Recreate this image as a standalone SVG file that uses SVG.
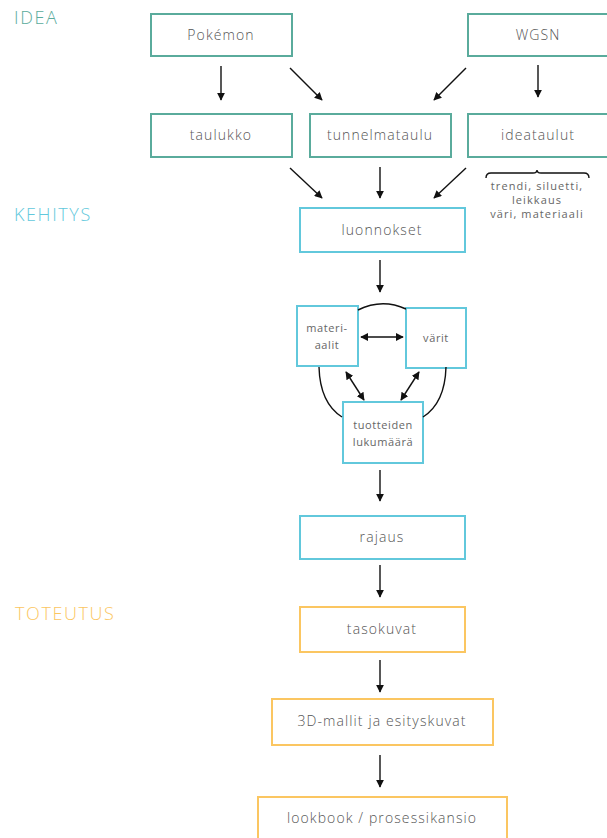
<svg xmlns="http://www.w3.org/2000/svg" width="607" height="838" viewBox="0 0 607 838">
<style>
.box{fill:#fff;stroke-width:2}
.t{stroke:#5aab9c}
.c{stroke:#62c8dc}
.o{stroke:#fbc661}
.lbl{font-family:"Open Sans","Liberation Sans",sans-serif;font-weight:300;font-size:14px;fill:#555;text-anchor:middle;letter-spacing:1.1px}
.sm{font-family:"Open Sans","Liberation Sans",sans-serif;font-weight:400;font-size:11px;fill:#666;text-anchor:middle;letter-spacing:0.6px}
.nt{letter-spacing:1.1px}
.hd{font-family:"Open Sans","Liberation Sans",sans-serif;font-weight:300;font-size:18px;letter-spacing:1.6px}
.ln{stroke:#111;stroke-width:1.4;fill:none}
</style>
<defs>
<marker id="ah" viewBox="0 0 10 10" refX="9" refY="5" markerWidth="8" markerHeight="8" markerUnits="userSpaceOnUse" orient="auto-start-reverse">
<path d="M0,0 L10,5 L0,10 z" fill="#111"/>
</marker>
</defs>
<text class="hd" x="14" y="24" fill="#5aab9c">IDEA</text>
<text class="hd" x="14" y="221" fill="#62c8dc">KEHITYS</text>
<text class="hd" x="15" y="620" fill="#fbc661">TOTEUTUS</text>

<g id="pokemon"><rect class="box t" x="151" y="14" width="141" height="42"/><text class="lbl" x="221" y="40">Pokémon</text></g>
<g id="wgsn"><rect class="box t" x="468" y="14" width="140" height="42"/><text class="lbl" x="538" y="40">WGSN</text></g>
<g id="taulukko"><rect class="box t" x="151" y="114" width="141" height="43"/><text class="lbl" x="221" y="140">taulukko</text></g>
<g id="tunnelmataulu"><rect class="box t" x="310" y="114" width="141" height="43"/><text class="lbl" x="380" y="140">tunnelmataulu</text></g>
<g id="ideataulut"><rect class="box t" x="468" y="114" width="140" height="43"/><text class="lbl" x="538" y="140">ideataulut</text></g>
<g id="ideataulut-note">
<path class="ln" stroke-width="1" d="M486,178 Q486,173 491,173 L533,173 Q537,173 537,170 Q537,173 541,173 L584,173 Q589,173 589,178"/>
<text class="sm nt" x="537" y="190">trendi, siluetti,</text>
<text class="sm nt" x="537" y="204">leikkaus</text>
<text class="sm nt" x="537" y="218">väri, materiaali</text>
</g>
<g id="luonnokset"><rect class="box c" x="300" y="208" width="165" height="44"/><text class="lbl" x="382" y="235">luonnokset</text></g>
<g id="materiaalit"><rect class="box c" x="297" y="306" width="61" height="60"/><text class="sm" x="327" y="332">materi-</text><text class="sm" x="327" y="349">aalit</text></g>
<g id="varit"><rect class="box c" x="406" y="308" width="60" height="60"/><text class="sm" x="436" y="342">värit</text></g>
<g id="tuotteiden"><rect class="box c" x="343" y="402" width="80" height="61"/><text class="sm" x="383" y="429">tuotteiden</text><text class="sm" x="383" y="446">lukumäärä</text></g>
<g id="rajaus"><rect class="box c" x="300" y="516" width="165" height="43"/><text class="lbl" x="382" y="542">rajaus</text></g>
<g id="tasokuvat"><rect class="box o" x="300" y="607" width="165" height="45"/><text class="lbl" x="382" y="634">tasokuvat</text></g>
<g id="mallit"><rect class="box o" x="272" y="699" width="221" height="46"/><text class="lbl" x="382" y="726">3D-mallit ja esityskuvat</text></g>
<g id="lookbook"><rect class="box o" x="258" y="797" width="249" height="50"/><text class="lbl" x="382" y="823">lookbook / prosessikansio</text></g>

<g id="connectors">
<line class="ln" x1="221" y1="66" x2="221" y2="100" marker-end="url(#ah)"/>
<line class="ln" x1="290" y1="68" x2="322" y2="100" marker-end="url(#ah)"/>
<line class="ln" x1="466" y1="68" x2="434" y2="100" marker-end="url(#ah)"/>
<line class="ln" x1="538" y1="65" x2="538" y2="97" marker-end="url(#ah)"/>
<line class="ln" x1="290" y1="168" x2="322" y2="198" marker-end="url(#ah)"/>
<line class="ln" x1="380" y1="167" x2="380" y2="198" marker-end="url(#ah)"/>
<line class="ln" x1="466" y1="168" x2="434" y2="198" marker-end="url(#ah)"/>
<line class="ln" x1="380" y1="260" x2="380" y2="292" marker-end="url(#ah)"/>
<line class="ln" x1="361" y1="337" x2="403" y2="337" marker-start="url(#ah)" marker-end="url(#ah)"/>
<line class="ln" x1="346" y1="372" x2="364" y2="400" marker-start="url(#ah)" marker-end="url(#ah)"/>
<line class="ln" x1="419" y1="372" x2="401" y2="400" marker-start="url(#ah)" marker-end="url(#ah)"/>
<path class="ln" d="M358,310 Q382,298 406,309"/>
<path class="ln" d="M319,367 Q320,403 342,417"/>
<path class="ln" d="M446,367 Q445,403 423,417"/>
<line class="ln" x1="380" y1="470" x2="380" y2="501" marker-end="url(#ah)"/>
<line class="ln" x1="380" y1="565" x2="380" y2="597" marker-end="url(#ah)"/>
<line class="ln" x1="380" y1="660" x2="380" y2="692" marker-end="url(#ah)"/>
<line class="ln" x1="380" y1="755" x2="380" y2="787" marker-end="url(#ah)"/>
</g>
</svg>
